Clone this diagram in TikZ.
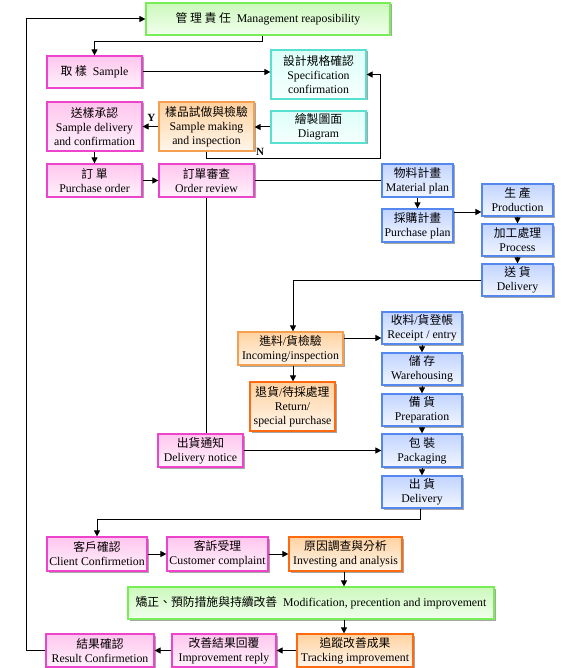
\documentclass[tikz,border=0pt]{standalone}
\usepackage{fontspec}
\setmainfont{Liberation Serif}
\newfontfamily\cjkf{Noto Sans CJK TC}
\usetikzlibrary{arrows.meta,shadows,calc}
\definecolor{pinkB}{HTML}{EE44CC}
\definecolor{pinkT}{HTML}{FFC6EE}
\definecolor{pinkW}{HTML}{FFF2FB}
\definecolor{oraB}{HTML}{F5A050}
\definecolor{oraD}{HTML}{FF6A10}
\definecolor{oraT}{HTML}{FFD2A0}
\definecolor{oraW}{HTML}{FFF6EC}
\definecolor{grnB}{HTML}{77EE55}
\definecolor{grnT}{HTML}{CCF8BC}
\definecolor{grnW}{HTML}{F2FFEE}
\definecolor{cyaB}{HTML}{55E0D0}
\definecolor{cyaT}{HTML}{DDFFF8}
\definecolor{cyaW}{HTML}{F6FFFD}
\definecolor{bluB}{HTML}{5588EE}
\definecolor{bluT}{HTML}{C2D4FF}
\definecolor{bluW}{HTML}{F2F6FF}
\newcommand\bx[6]{\node[#1,minimum width=#4pt,minimum height=#5pt] (#2) at (#3) {#6};}
\begin{document}
\begin{tikzpicture}[x=1pt,y=-1pt,
 box/.style={draw, line width=1.2pt, align=center, inner sep=0pt,
   font=\fontsize{11.8}{14}\selectfont,
   drop shadow={shadow xshift=1.5pt,shadow yshift=-1.5pt,opacity=0.35,fill=black}},
 pinkbox/.style={box, draw=pinkB, top color=pinkT, bottom color=pinkW},
 orabox/.style={box, draw=oraB, top color=oraT, bottom color=oraW},
 oradbox/.style={box, draw=oraD, top color=oraT, bottom color=oraW},
 grnbox/.style={box, draw=grnB, top color=grnT, bottom color=grnW},
 cyabox/.style={box, draw=cyaB, top color=cyaT, bottom color=cyaW},
 blubox/.style={box, draw=bluB, top color=bluT, bottom color=bluW},
 conn/.style={line width=1pt, -{Triangle[length=6pt,width=6pt]}},
 plain/.style={line width=1pt},
 lab/.style={font=\bfseries\fontsize{11}{12}\selectfont, inner sep=0pt}
]
\fill[white] (0,0) rectangle (575,668);
\useasboundingbox (0,0) rectangle (575,668);

\bx{grnbox}{mgmt}{268,19}{244}{32}{{\cjkf 管 理 責 任}\ \ Management reaposibility}
\bx{pinkbox}{sample}{94.5,72}{95}{32}{{\cjkf 取 樣}\ \ Sample}
\bx{cyabox}{spec}{318.5,74.5}{95}{49}{{\cjkf 設計規格確認}\\Specification\\confirmation}
\bx{pinkbox}{sdel}{94.5,126.5}{95}{49}{{\cjkf 送樣承認}\\Sample delivery\\and confirmation}
\bx{orabox}{smak}{206.5,126.5}{95}{49}{{\cjkf 樣品試做與檢驗}\\Sample making\\and inspection}
\bx{cyabox}{diag}{318.5,127}{95}{32}{{\cjkf 繪製圖面}\\Diagram}
\bx{pinkbox}{po}{94.5,180.5}{95}{33}{{\cjkf 訂 單}\\Purchase order}
\bx{pinkbox}{orev}{206.5,180.5}{95}{33}{{\cjkf 訂單審查}\\Order review}
\bx{blubox}{mat}{417.5,180.5}{71}{33}{{\cjkf 物料計畫}\\Material plan}
\bx{blubox}{pplan}{417.5,225.5}{71}{33}{{\cjkf 採購計畫}\\Purchase plan}
\bx{blubox}{prod}{517.5,200}{71}{32}{{\cjkf 生 產}\\Production}
\bx{blubox}{proc}{517.5,240}{71}{32}{{\cjkf 加工處理}\\Process}
\bx{blubox}{deliv}{517.5,280}{71}{32}{{\cjkf 送 貨}\\Delivery}
\bx{orabox}{inc}{290.5,348.5}{105}{33}{{\cjkf 進料}/{\cjkf 貨檢驗}\\Incoming/inspection}
\bx{oradbox}{ret}{292.5,406.5}{85}{49}{{\cjkf 退貨}/{\cjkf 待採處理}\\Return/\\special purchase}
\bx{blubox}{recv}{422,328}{80}{32}{{\cjkf 收料}/{\cjkf 貨登帳}\\Receipt / entry}
\bx{blubox}{ware}{422,369}{80}{32}{{\cjkf 儲 存}\\Warehousing}
\bx{blubox}{prep}{422,410}{80}{32}{{\cjkf 備 貨}\\Preparation}
\bx{blubox}{pack}{422,450.5}{80}{33}{{\cjkf 包 裝}\\Packaging}
\bx{blubox}{ship}{422,492}{80}{32}{{\cjkf 出 貨}\\Delivery}
\bx{pinkbox}{dnot}{200.5,450.5}{85}{33}{{\cjkf 出貨通知}\\Delivery notice}
\bx{pinkbox}{client}{97,554}{100}{34}{{\cjkf 客戶確認}\\Client Confirmetion}
\bx{pinkbox}{compl}{217.5,554}{101}{34}{{\cjkf 客訴受理}\\Customer complaint}
\bx{oradbox}{invest}{345.5,554}{113}{34}{{\cjkf 原因調查與分析}\\Investing and analysis}
\bx{grnbox}{modif}{311,603}{366}{32}{{\cjkf 矯正、預防措施與持續改善}\ \ Modification, precention and improvement}
\bx{oradbox}{track}{355,650.5}{116}{33}{{\cjkf 追蹤改善成果}\\Tracking improvement}
\bx{pinkbox}{reply}{224,650.5}{104}{33}{{\cjkf 改善結果回覆}\\Improvement reply}
\bx{pinkbox}{result}{100,650.5}{108}{33}{{\cjkf 結果確認}\\Result Confirmetion}

\draw[conn] (result.west) -- ++(-19,0) |- (mgmt.west);
\draw[conn] ([xshift=-6pt]mgmt.south) -- ++(0,6) -| (sample.north);
\draw[conn] (sample.east) -- (sample.east -| spec.west);
\draw[conn] (diag.west) -- (diag.west -| smak.east);
\draw[conn] (smak.west) -- node[lab, above=4pt, pos=0.45] (ylab) {Y} (smak.west -| sdel.east);
\draw[conn] (smak.south) -- ++(0,7) -| ($(spec.east)+(14,0)$) -- (spec.east);
\node[lab] (nlab) at (260,152) {N};
\draw[conn] (sdel.south) -- (po.north);
\draw[conn] (po.east) -- (orev.west);
\draw[plain] (orev.east) -- (mat.west);
\draw[conn] (mat.south) -- (pplan.north);
\draw[conn] (pplan.east |- 0,212) -- (prod.west |- 0,212);
\draw[conn] (prod.south) -- (proc.north);
\draw[conn] (proc.south) -- (deliv.north);
\draw[conn] (deliv.west) -| ([xshift=2.5pt]inc.north);
\draw[conn] (inc.east |- 0,338) -- (recv.west |- 0,338);
\draw[conn] ([xshift=2.5pt]inc.south) -- ([xshift=2.5pt]inc.south |- ret.north);
\draw[conn] (recv.south) -- (ware.north);
\draw[conn] (ware.south) -- (prep.north);
\draw[conn] (prep.south) -- (pack.north);
\draw[conn] (pack.south) -- (ship.north);
\draw[plain] ([xshift=-0.5pt]orev.south) -- ([xshift=-0.5pt]orev.south |- dnot.north);
\draw[conn] (dnot.east) -- (pack.west);
\draw[conn] ([xshift=-2pt]ship.south) -- ++(0,11) -| (client.north);
\draw[conn] (client.east) -- (compl.west);
\draw[conn] (compl.east) -- (invest.west);
\draw[conn] ([xshift=-1.5pt]invest.south) -- ([xshift=-1.5pt]invest.south |- modif.north);
\draw[conn] ([xshift=-1.5pt]invest.south |- modif.south) -- ([xshift=-1.5pt]invest.south |- track.north);
\draw[conn] (track.west) -- (reply.east);
\draw[conn] (reply.west) -- (result.east);
\end{tikzpicture}
\end{document}
